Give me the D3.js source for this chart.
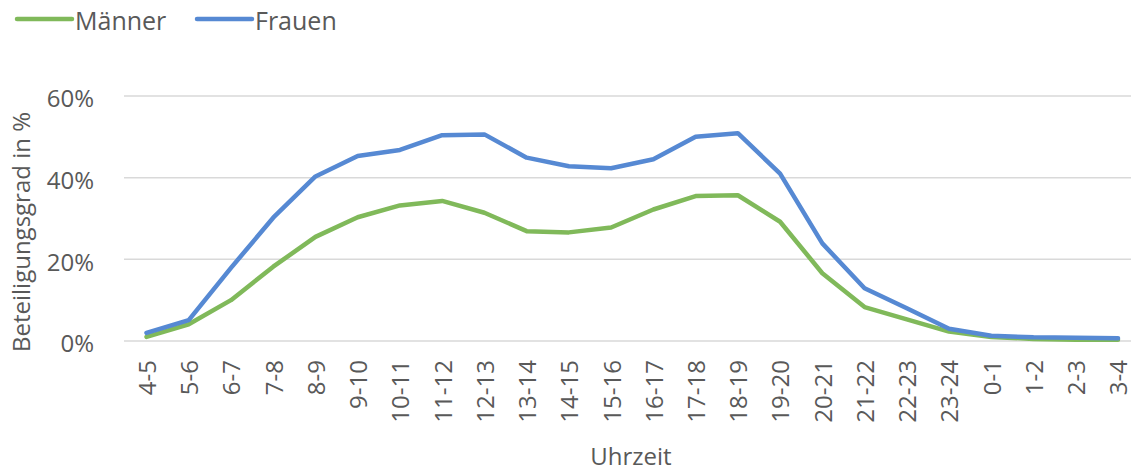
<!DOCTYPE html>
<html><head><meta charset="utf-8">
<script src="https://cdn.jsdelivr.net/npm/d3@7"></script>
<style>body{margin:0;background:#fff}svg{display:block}text{font-family:"Open Sans",sans-serif;fill:#595959}</style>
</head><body><svg id="c" width="1131" height="470"></svg>
<script>
const categories = ["4-5","5-6","6-7","7-8","8-9","9-10","10-11","11-12","12-13","13-14","14-15","15-16","16-17","17-18","18-19","19-20","20-21","21-22","22-23","23-24","0-1","1-2","2-3","3-4"];
const maenner = [1.0,4.1,10.0,18.2,25.5,30.3,33.2,34.3,31.4,26.9,26.6,27.8,32.2,35.5,35.7,29.2,16.6,8.3,5.3,2.3,1.0,0.5,0.3,0.3];
const frauen  = [2.0,5.1,17.9,30.2,40.3,45.3,46.8,50.4,50.6,44.9,42.8,42.3,44.5,50.0,50.9,41.0,23.9,12.9,8.0,3.0,1.3,0.9,0.8,0.7];
const seriesNames = ["Männer","Frauen"];
const colors = ["#80b95a","#5689d3"];
const yTicks = [0,20,40,60];

const svg = d3.select("#c");
const x = d3.scalePoint().domain(categories).range([146.5,1118]);
const y = d3.scaleLinear().domain([0,60]).range([341,96]);

const g = svg.append("g");
g.selectAll("line.grid").data(yTicks).join("line")
  .attr("x1",124).attr("x2",1131).attr("y1",d=>y(d)).attr("y2",d=>y(d))
  .attr("stroke","#d9d9d9").attr("stroke-width",1.5);

const yAxis = d3.axisLeft(y).tickValues(yTicks).tickFormat(d=>d+"%").tickSize(0).tickPadding(0);
const ya = svg.append("g").attr("transform","translate(94,0)").call(yAxis);
ya.select(".domain").remove();
ya.selectAll("text").attr("font-size",24).style("font-family","'Open Sans',sans-serif").attr("fill","#595959").attr("dy","0.45em");

const xAxis = d3.axisBottom(x).tickSize(0).tickPadding(0);
const xa = svg.append("g").attr("transform","translate(0.5,360)").call(xAxis);
xa.select(".domain").remove();
xa.selectAll("text").attr("font-size",24).style("font-family","'Open Sans',sans-serif").attr("fill","#595959")
  .attr("text-anchor","end").attr("transform","rotate(-90)").attr("x",0).attr("y",0).attr("dx",0).attr("dy","0.35em");

const line = d3.line().x((d,i)=>x(categories[i])).y(d=>y(d));
[maenner,frauen].forEach((s,k)=>{
  svg.append("path").datum(s).attr("d",line).attr("fill","none")
    .attr("stroke",colors[k]).attr("stroke-width",4.5).attr("stroke-linejoin","round").attr("stroke-linecap","round");
});

// legend
const lx = [17,197];
seriesNames.forEach((n,k)=>{
  svg.append("line").attr("x1",lx[k]).attr("x2",lx[k]+55).attr("y1",19).attr("y2",19)
    .attr("stroke",colors[k]).attr("stroke-width",4.5).attr("stroke-linecap","round");
  svg.append("text").attr("x",lx[k]+58).attr("y",30).attr("font-size",25).text(n);
});

svg.append("text").attr("transform","translate(30,232) rotate(-90)").attr("text-anchor","middle")
  .attr("font-size",24).text("Beteiligungsgrad in %");
svg.append("text").attr("x",631).attr("y",465).attr("text-anchor","middle").attr("font-size",24).text("Uhrzeit");
</script></body></html>
